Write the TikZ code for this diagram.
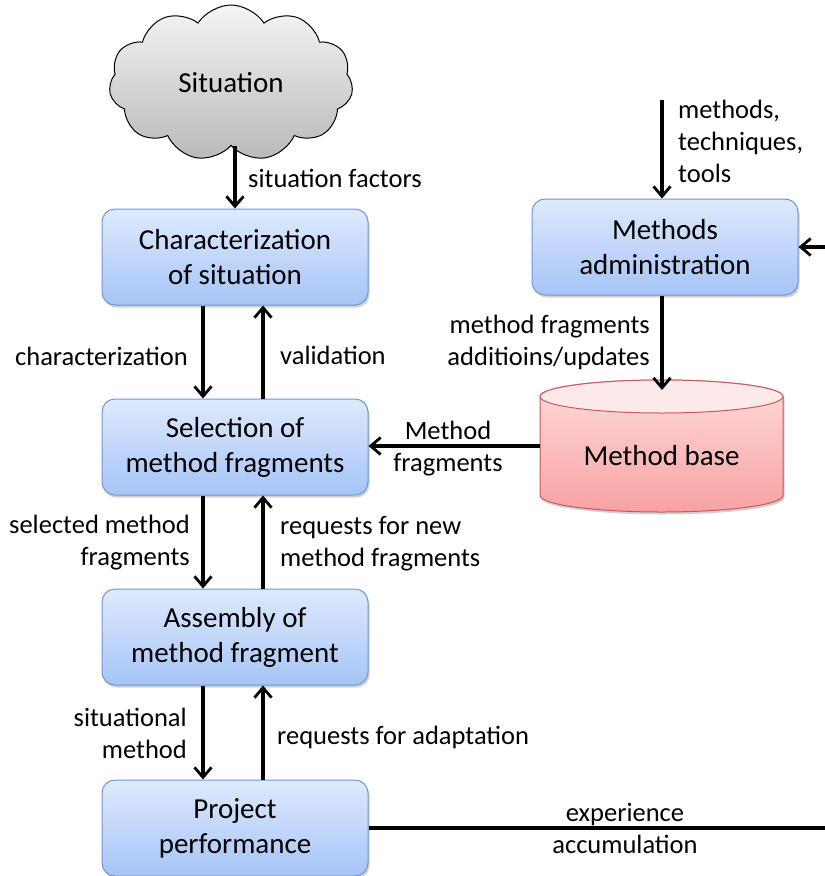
\documentclass[tikz,border=0pt]{standalone}
\usepackage{fontspec}
\setmainfont{Carlito}
\usetikzlibrary{shapes.symbols,arrows.meta,shadows}
\definecolor{boxtop}{HTML}{DEEAFD}
\definecolor{boxbot}{HTML}{A6C4F7}
\definecolor{boxline}{HTML}{6F98D2}
\definecolor{cyltop}{HTML}{FFDCDC}
\definecolor{cylbot}{HTML}{F8A2A2}
\definecolor{cylface}{HTML}{FDE9E9}
\definecolor{cylline}{HTML}{C85A5A}
\begin{document}
\begin{tikzpicture}[x=1pt,y=-1pt,
  procbox/.style={draw=boxline, line width=1pt, rounded corners=13pt,
    top color=boxtop, bottom color=boxbot, minimum width=266pt,
    minimum height=96pt, align=center, inner sep=0pt,
    font=\fontsize{29}{35}\selectfont,
    drop shadow={shadow xshift=1.5pt, shadow yshift=-2.5pt, opacity=0.3, fill=black!60}},
  lbl/.style={font=\fontsize{26.5}{32}\selectfont, inner sep=0pt},
  arr/.style={line width=3.2pt, -{Straight Barb[length=10pt,width=17pt,line width=2.8pt]}},
  plain/.style={line width=3.2pt}]
\useasboundingbox (0,0) rectangle (825,876);

% cloud
\node[cloud, cloud puffs=11, cloud puff arc=115, aspect=1.6, draw=black, line width=1pt,
  top color=gray!8, bottom color=gray!55, minimum width=244pt, minimum height=156pt,
  inner sep=0pt, font=\fontsize{29}{35}\selectfont] (cloud) at (231,83) {Situation};

% process boxes
\node[procbox] (char) at (235,257) {Characterization\\of situation};
\node[procbox] (sel)  at (235,447) {Selection of\\method fragments};
\node[procbox] (asm)  at (235,637) {Assembly of\\method fragment};
\node[procbox] (proj) at (235,828) {Project\\performance};
\node[procbox] (adm)  at (665,247) {Methods\\administration};

% method base cylinder
\node[minimum width=243pt, minimum height=132pt, inner sep=0pt] (mb) at (661.5,446) {};
\path[draw=cylline, line width=1pt, top color=cyltop, bottom color=cylbot,
  drop shadow={shadow xshift=1.5pt, shadow yshift=-2.5pt, opacity=0.3, fill=black!60}]
  (540,396.5) -- (540,495.5)
  arc[start angle=180, end angle=360, x radius=121.5pt, y radius=16.5pt]
  -- (783,396.5)
  arc[start angle=0, end angle=180, x radius=121.5pt, y radius=16.5pt] -- cycle;
\path[draw=cylline, line width=1pt, fill=cylface]
  (661.5,396.5) ellipse[x radius=121.5pt, y radius=16.5pt];
\node[font=\fontsize{29}{35}\selectfont, inner sep=0pt] (mbtext) at (661.5,456) {Method base};

% free ends
\coordinate (topin) at (662,100);
\coordinate (rightin) at (825,247);
\coordinate (rightout) at (825,828);
\coordinate (mbtop) at (662,390);

% connectors
\draw[arr] (char.north |- cloud.south) -- (char.north);
\draw[arr] ([xshift=-32pt]char.south) -- ([xshift=-32pt]sel.north);
\draw[arr] ([xshift=28pt]sel.north) -- ([xshift=28pt]char.south);
\draw[arr] ([xshift=-32pt]sel.south) -- ([xshift=-32pt]asm.north);
\draw[arr] ([xshift=28pt]asm.north) -- ([xshift=28pt]sel.south);
\draw[arr] ([xshift=-32pt]asm.south) -- ([xshift=-32pt]proj.north);
\draw[arr] ([xshift=28pt]proj.north) -- ([xshift=28pt]asm.south);
\draw[arr] (topin) -- (topin |- adm.north);
\draw[arr] (rightin) -- (adm.east);
\draw[arr] (mbtop |- adm.south) -- (mbtop);
\draw[arr] (mb.west) -- (mb.west -| sel.east);
\draw[plain] (proj.east) -- (rightout);

% labels
\node[lbl, anchor=west] (l1) at (248,178) {situation factors};
\node[lbl, anchor=east] (l2) at (188,356) {characterization};
\node[lbl, anchor=west] (l3) at (280,355) {validation};
\node[lbl, anchor=east, align=right] (l4) at (190,543) {selected method\\fragments};
\node[lbl, anchor=west, align=left] (l5) at (280,544) {requests for new\\method fragments};
\node[lbl, anchor=east, align=right] (l6) at (187,733) {situational\\method};
\node[lbl, anchor=west] (l7) at (277,737) {requests for adaptation};
\node[lbl, anchor=west, align=left] (l8) at (678,141) {methods,\\techniques,\\tools};
\node[lbl, anchor=east, align=right] (l9) at (650,342) {method fragments\\additioins/updates};
\node[lbl, align=center] (l10) at (448,449) {Method\\fragments};
\node[lbl, align=center] (l11) at (625,828) {experience\\accumulation};
\end{tikzpicture}
\end{document}
